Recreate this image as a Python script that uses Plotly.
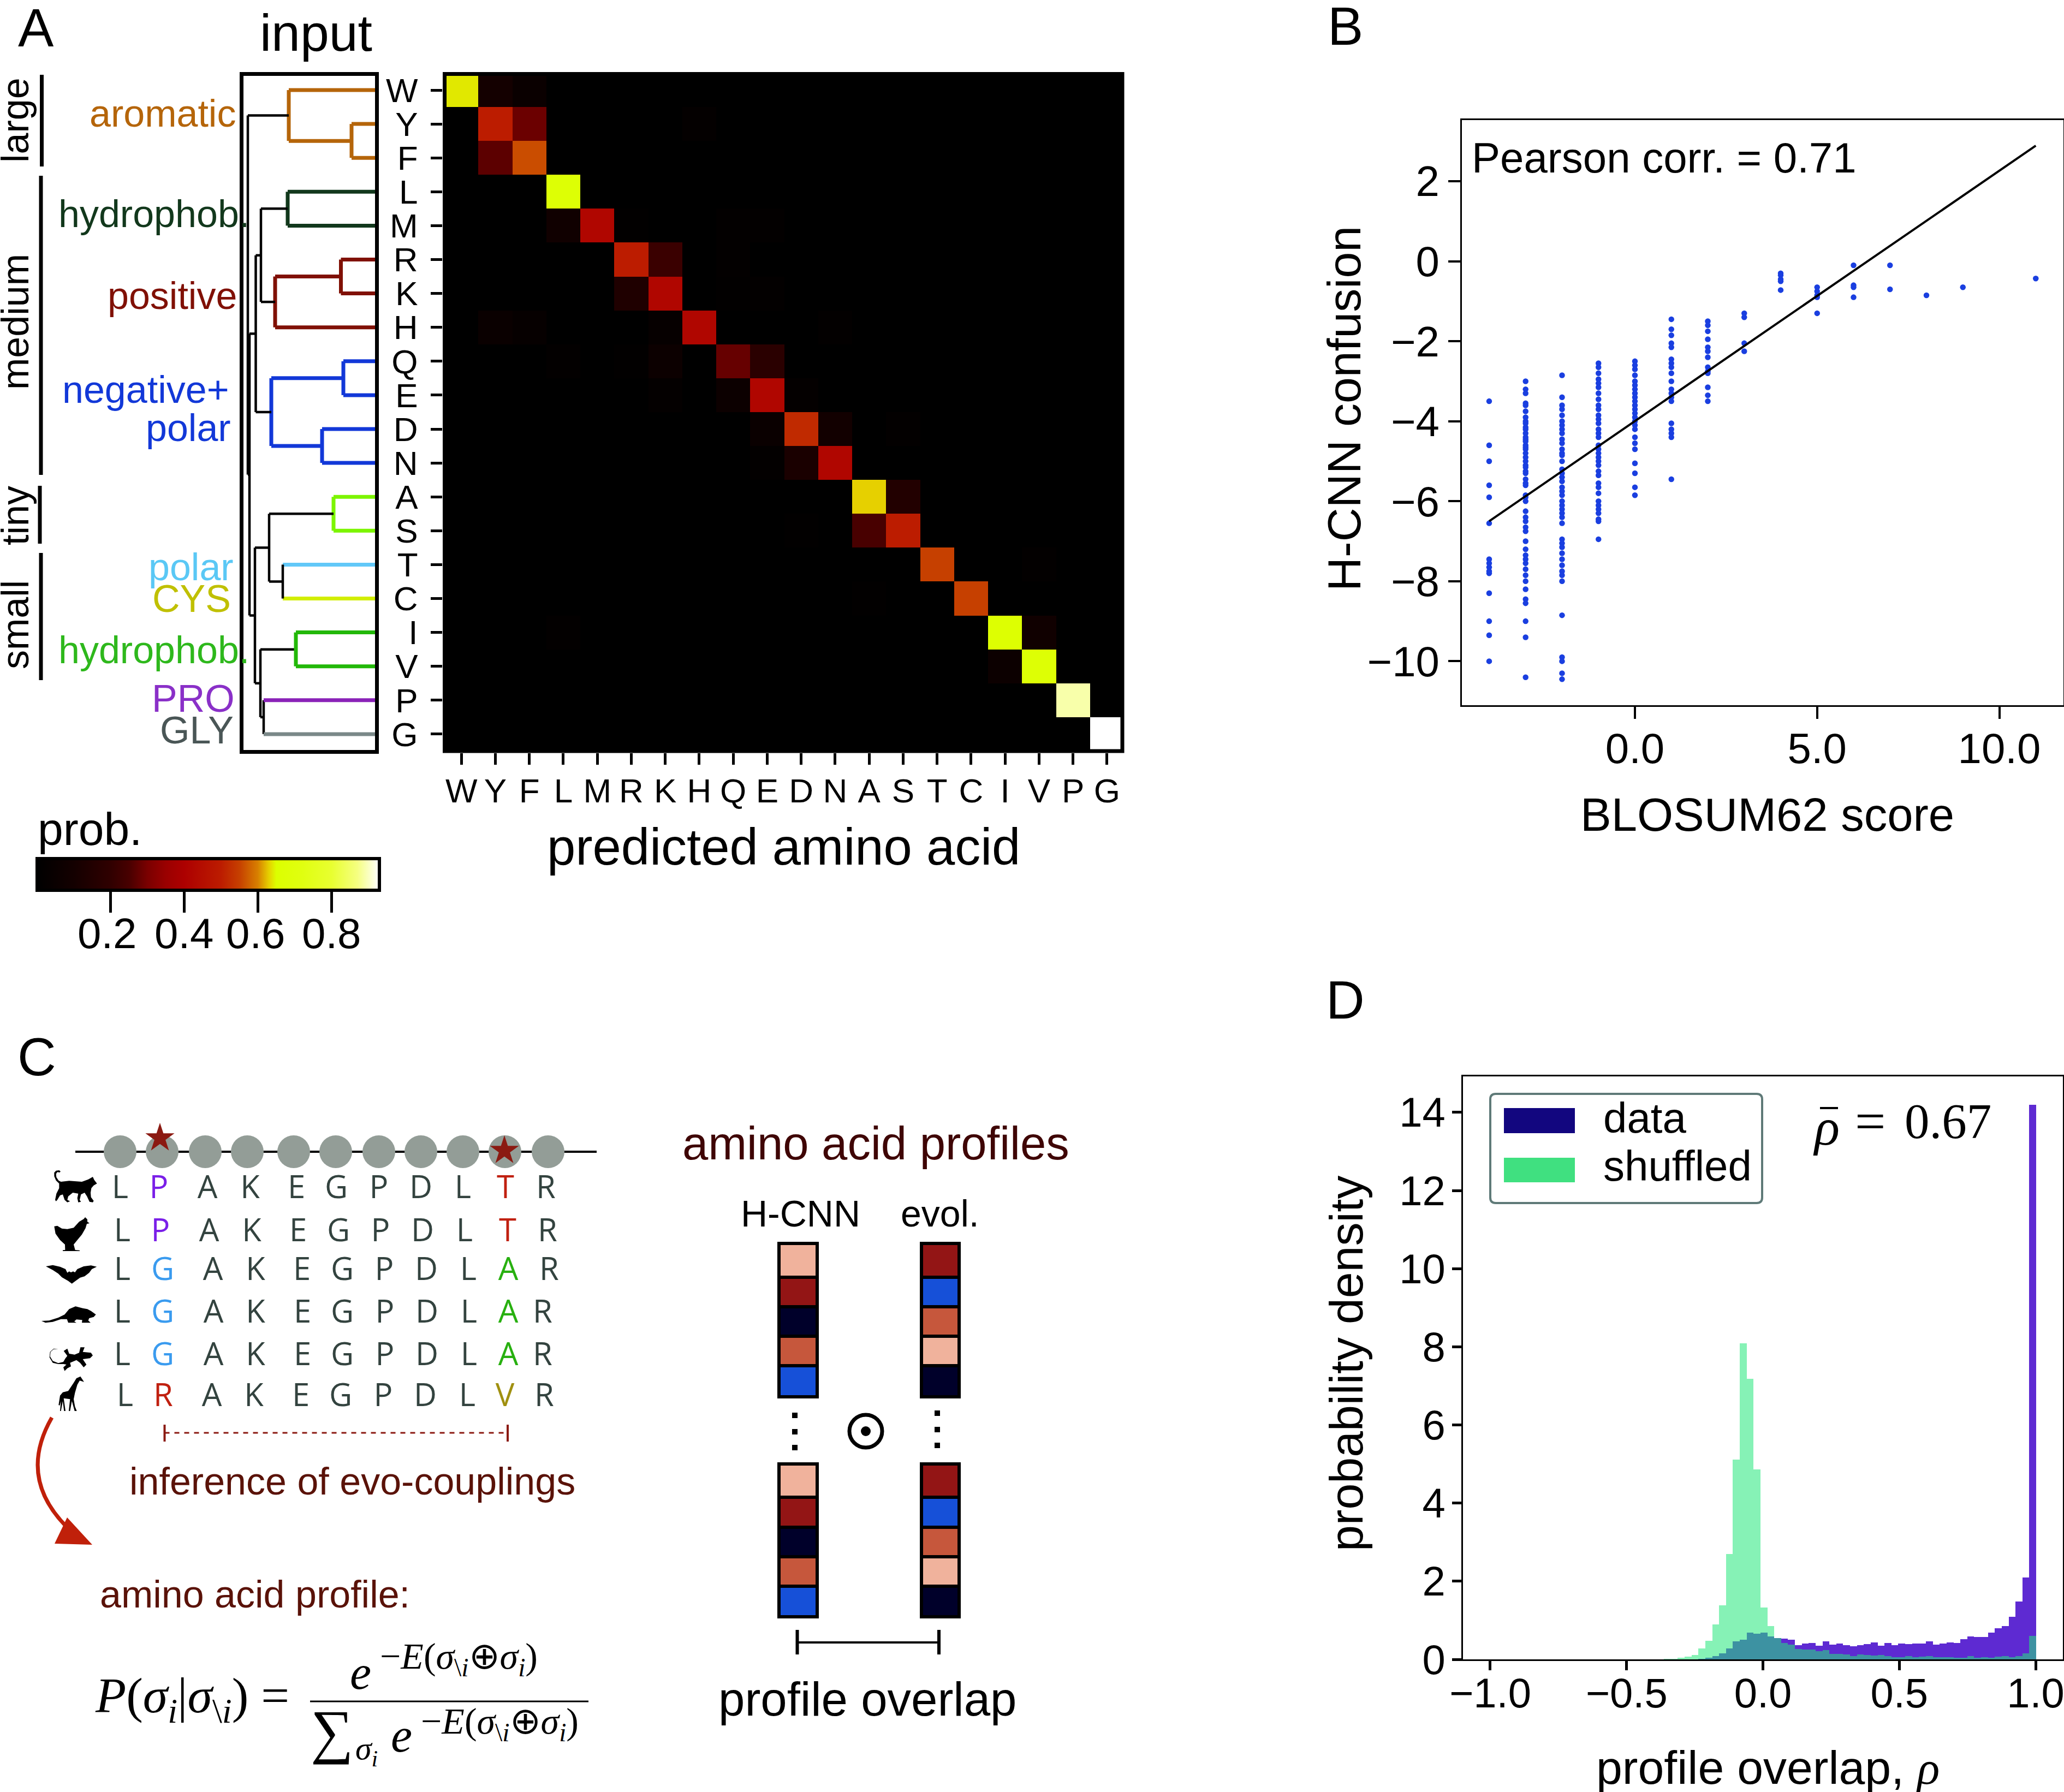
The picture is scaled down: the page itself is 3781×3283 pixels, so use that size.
import plotly.graph_objects as go

W, H = 3781, 3283
SANS = "Liberation Sans"
SERIF = "Liberation Serif"

# ---------------- Panel A data ----------------
amino_acids = ["W","Y","F","L","M","R","K","H","Q","E","D","N","A","S","T","C","I","V","P","G"]
prob_W = [.64,.10,.05,0,0,0,0,0,0,0,0,0,0,0,0,0,0,0,0,0]
prob_Y = [0,.50,.285,0,0,0,0,.02,0,0,0,0,0,0,0,0,0,0,0,0]
prob_F = [0,.27,.56,0,0,0,0,0,0,0,0,0,0,0,0,0,0,0,0,0]
prob_L = [0,0,0,.67,0,0,0,0,0,0,0,0,0,0,0,0,0,0,0,0]
prob_M = [0,0,0,.08,.42,.01,0,0,.015,.015,0,0,0,0,0,0,0,0,0,0]
prob_R = [0,0,0,0,0,.50,.22,0,.015,0,0,0,0,0,0,0,0,0,0,0]
prob_K = [0,0,0,0,0,.14,.42,0,.01,.015,0,0,0,0,0,0,0,0,0,0]
prob_H = [0,.05,.03,0,0,0,.03,.42,0,0,0,.015,0,0,0,0,0,0,0,0]
prob_Q = [0,0,0,.015,0,.01,.06,0,.28,.18,0,0,0,0,0,0,0,0,0,0]
prob_E = [0,0,0,0,0,0,.02,0,.06,.42,.02,0,0,0,0,0,0,0,0,0]
prob_D = [0,0,0,0,0,0,0,0,0,.05,.52,.09,0,.015,0,0,0,0,0,0]
prob_N = [0,0,0,0,0,0,0,0,0,.015,.12,.42,0,0,0,0,0,0,0,0]
prob_A = [0,0,0,0,0,0,0,0,0,0,0,0,.63,.15,0,0,0,0,0,0]
prob_S = [0,0,0,0,0,0,0,0,0,0,.01,0,.25,.50,0,0,0,0,0,0]
prob_T = [0,0,0,0,0,0,0,0,0,0,0,0,0,0,.55,0,0,.015,0,0]
prob_C = [0,0,0,0,0,0,0,0,0,0,0,0,.01,0,0,.55,0,0,0,0]
prob_I = [0,0,0,.015,0,0,0,0,0,0,0,0,0,0,0,0,.66,.08,0,0]
prob_V = [0,0,0,0,0,0,0,0,0,0,0,0,0,0,0,0,.06,.67,0,0]
prob_P = [0,0,0,0,0,0,0,0,0,0,0,0,0,0,0,0,0,0,.89,0]
prob_G = [0,0,0,0,0,0,0,0,0,0,0,0,0,0,0,0,0,0,0,.93]
prob_matrix = [prob_W,prob_Y,prob_F,prob_L,prob_M,prob_R,prob_K,prob_H,prob_Q,prob_E,
               prob_D,prob_N,prob_A,prob_S,prob_T,prob_C,prob_I,prob_V,prob_P,prob_G]
prob_ticks = [0.2,0.4,0.6,0.8]

# dendrogram merges: name, left, right, height, colour
merges = [
 ("YF","Y","F",.172,"#b5650a"), ("aro","W","YF",.632,"#b5650a"),
 ("LM","L","M",.640,"#12381c"),
 ("RK","R","K",.250,"#801005"), ("pos","RK","H",.732,"#801005"),
 ("QE","Q","E",.232,"#1238d8"), ("DN","D","N",.388,"#1238d8"), ("neg","QE","DN",.760,"#1238d8"),
 ("AS","A","S",.304,"#7cf500"), ("TC","T","C",.676,"black"),
 ("IV","I","V",.580,"#22b808"), ("PG","P","G",.816,"black"),
 ("hp","LM","pos",.836,"black"), ("med","hp","neg",.874,"black"),
 ("tiny","AS","TC",.776,"black"), ("sm","IV","PG",.840,"black"),
 ("low","tiny","sm",.880,"black"), ("ml","med","low",.920,"black"),
 ("root","aro","ml",.932,"black"),
]
leaf_colors = {"T":"#62c8f8","C":"#d2ee00","P":"#8a22b8","G":"#7a8888"}

# ---------------- Panel B data ----------------
blosum_scores = [-4,-3,-2,-1,0,1,2,3,4,5,6,7,8,9,11]
conf_m4 = [-3.5,-4.6,-5.0,-5.6,-5.9,-6.55,-7.45,-7.55,-7.65,-7.75,-7.8,-8.3,-9.0,-9.35,-10.0]
conf_m3 = [-3.0,-3.2,-3.3,-3.55,-3.6,-3.75,-3.9,-4.0,-4.05,-4.15,-4.2,-4.3,-4.4,-4.45,-4.5,-4.6,-4.65,-4.7,-4.8,-4.9,
           -5.0,-5.1,-5.15,-5.25,-5.3,-5.45,-5.55,-5.6,-5.85,-5.9,-6.0,-6.25,-6.4,-6.5,-6.65,-6.75,-7.0,-7.2,-7.35,
           -7.45,-7.55,-7.7,-7.85,-8.0,-8.2,-8.45,-8.55,-9.0,-9.4,-10.4]
conf_m2 = [-2.85,-3.4,-3.6,-3.7,-3.85,-4.0,-4.1,-4.2,-4.3,-4.45,-4.55,-4.7,-4.8,-4.85,-5.0,-5.2,-5.3,-5.4,-5.5,-5.65,
           -5.75,-5.85,-6.0,-6.1,-6.2,-6.3,-6.4,-6.55,-6.95,-7.05,-7.15,-7.3,-7.45,-7.6,-7.75,-7.85,-8.0,-8.85,-9.9,-10.0,-10.3,-10.45]
conf_m1 = [-2.55,-2.65,-2.8,-2.95,-3.05,-3.15,-3.3,-3.45,-3.6,-3.7,-3.85,-3.95,-4.05,-4.2,-4.3,-4.4,-4.6,-4.7,-4.8,-4.9,
           -5.0,-5.1,-5.25,-5.35,-5.55,-5.65,-5.8,-6.0,-6.1,-6.2,-6.3,-6.45,-6.5,-6.95]
conf_0 = [-2.5,-2.6,-2.7,-2.85,-3.0,-3.1,-3.2,-3.3,-3.4,-3.5,-3.6,-3.7,-3.8,-3.9,-4.0,-4.1,-4.2,-4.4,-4.55,-4.7,-5.05,-5.3,-5.65,-5.85]
conf_1 = [-1.45,-1.7,-1.85,-2.05,-2.15,-2.45,-2.55,-2.65,-2.8,-3.0,-3.2,-3.3,-3.4,-3.5,-4.05,-4.2,-4.3,-4.4,-5.45]
conf_2 = [-1.5,-1.6,-1.75,-1.95,-2.15,-2.25,-2.4,-2.65,-2.75,-2.8,-3.15,-3.35,-3.5]
conf_3 = [-1.3,-1.4,-2.05,-2.25]
conf_4 = [-0.3,-0.35,-0.45,-0.5,-0.72]
conf_5 = [-0.65,-0.75,-0.85,-0.9,-1.3]
conf_6 = [-0.1,-0.6,-0.65,-0.9]
conf_7 = [-0.1,-0.7]
conf_8 = [-0.85]
conf_9 = [-0.65]
conf_11 = [-0.43]
conf_columns = [conf_m4,conf_m3,conf_m2,conf_m1,conf_0,conf_1,conf_2,conf_3,conf_4,conf_5,conf_6,conf_7,conf_8,conf_9,conf_11]
fit_x = [-4, 11]
fit_y = [-6.5, 2.89]

# ---------------- Panel D data ----------------
bin_right = 1.002
bin_width = 0.02528
data_density = [0,0,0,0,0,.01,.04,.09,.16,.28,.46,.50,.68,.65,.68,.58,.55,.53,.50,.37,.40,.42,.35,.456,.38,.405,.37,.33,.37,.39,
                .43,.35,.42,.37,.41,.39,.41,.41,.456,.38,.40,.43,.42,.52,.582,.568,.577,.69,.80,.857,1.09,1.48,2.10,14.2]
shuffled_density = [.01,.02,.04,.07,.11,.28,.48,.89,1.38,2.70,5.11,8.09,7.18,4.86,1.33,.85,.55,.42,.38,.27,.25,.256,.205,.237,.14,.14,.126,.084,.126,.11,
                    .10,.11,.084,.055,.055,.08,.055,.065,.084,.055,.055,.055,.04,.04,.084,.04,.055,.04,.065,.084,.055,.08,.154,.596]

# ---------------- Panel C data ----------------
sequences = ["LPAKEGPDLTR","LPAKEGPDLTR","LGAKEGPDLAR","LGAKEGPDLAR","LGAKEGPDLAR","LRAKEGPDLVR"]
residue_colors = {"P":"#7a1fe8","G":"#3a9bef","R":"#c02010","T":"#c02010","A":"#28b010","V":"#a09010"}
coupled_sites = [1, 9]
hcnn_profile = ["salmon","crimson","navy","terracotta","blue"]
evol_profile = ["crimson","blue","terracotta","salmon","navy"]

# ---------------- geometry helpers ----------------
def xd(a, b): return [a / W, b / W]
def yd(top, bot): return [1 - bot / H, 1 - top / H]
def PX(x): return x / W
def PY(y): return 1 - y / H

fig = go.Figure()
shapes, annots = [], []

def text(t, x, y, size, color="black", xa="center", rot=0, family=SANS):
    annots.append(dict(text=t, x=PX(x), y=PY(y), xref="paper", yref="paper", showarrow=False,
                       xanchor=xa, yanchor="middle", textangle=rot, borderpad=0,
                       font=dict(size=size, color=color, family=family)))

def seg(x0, y0, x1, y1, color="black", width=4, dash=None):
    shapes.append(dict(type="line", xref="paper", yref="paper", x0=PX(x0), y0=PY(y0), x1=PX(x1), y1=PY(y1),
                       line=dict(color=color, width=width, dash=dash)))

def rect(x0, y0, x1, y1, fill, line="rgba(0,0,0,0)", width=0):
    shapes.append(dict(type="rect", xref="paper", yref="paper", x0=PX(x0), y0=PY(y0), x1=PX(x1), y1=PY(y1),
                       fillcolor=fill, line=dict(color=line, width=width)))

def poly(points, ox, oy, fill="black"):
    d = "M" + " L".join(f"{PX(ox + a / 3):.5f},{PY(oy + b / 3):.5f}" for a, b in points) + " Z"
    shapes.append(dict(type="path", xref="paper", yref="paper", path=d, fillcolor=fill, line=dict(width=0)))

# ---------------- Panel A: heatmap ----------------
ROW0, ROWSTEP = 165.0, 62.1
stops = [(0,"#000000"),(.1,"#140000"),(.2,"#300000"),(.25,"#480000"),(.3,"#7a0000"),(.35,"#9a0000"),(.4,"#ad0000"),
         (.5,"#bc1c00"),(.55,"#c64000"),(.6,"#d88000"),(.63,"#e6d000"),(.65,"#dcff00"),(.72,"#e0ff10"),
         (.8,"#e8ff30"),(.87,"#f5ff80"),(.93,"#ffffff")]
ZMAX = .93
fig.add_trace(go.Heatmap(
    z=prob_matrix, x=amino_acids, y=amino_acids, zmin=0, zmax=ZMAX, xaxis="x", yaxis="y",
    colorscale=[[v / ZMAX, c] for v, c in stops], hoverinfo="skip",
    colorbar=dict(orientation="h", x=PX(68), xanchor="left", y=PY(1573), yanchor="top",
                  len=627, lenmode="pixels", thickness=58, thicknessmode="pixels", xpad=0, ypad=0,
                  outlinewidth=6, outlinecolor="black", borderwidth=0, ticks="outside", ticklen=38, tickwidth=5,
                  tickcolor="black", tickvals=prob_ticks, showticklabels=False)))
# black frame clipping the edge cells, as in the reference
rect(814.5,135.5,2056,1376,"rgba(0,0,0,0)","black",7)

# ---------------- Panel A: dendrogram ----------------
pos = {a: (i, 0.0) for i, a in enumerate(amino_acids)}
segments = {}
def add_seg(color, xs, ys):
    sx, sy = segments.setdefault(color, ([], []))
    sx += xs + [None]
    sy += ys + [None]
for name, left, right, h, col in merges:
    ya, ha = pos[left]
    yb, hb = pos[right]
    add_seg(leaf_colors.get(left, col), [ha, h], [ya, ya])
    add_seg(leaf_colors.get(right, col), [hb, h], [yb, yb])
    add_seg(col, [h, h], [ya, yb])
    pos[name] = ((ya + yb) / 2, h)
for color, (sx, sy) in segments.items():
    fig.add_trace(go.Scatter(x=sx, y=sy, xaxis="x2", yaxis="y2", mode="lines", hoverinfo="skip",
                             line=dict(color=color, width=4.5 if color == "black" else 7)))

# ---------------- Panel B ----------------
bx, by = [], []
for s, col in zip(blosum_scores, conf_columns):
    bx += [s] * len(col)
    by += col
fig.add_trace(go.Scatter(x=bx, y=by, xaxis="x3", yaxis="y3", mode="markers", hoverinfo="skip",
                         marker=dict(size=10.5, color="#1a3fe0")))
fig.add_trace(go.Scatter(x=fit_x, y=fit_y, xaxis="x3", yaxis="y3", mode="lines", hoverinfo="skip",
                         line=dict(color="black", width=4)))

# ---------------- Panel D ----------------
n_bins = len(data_density)
bin_centers = [bin_right - (n_bins - i - 0.5) * bin_width for i in range(n_bins)]
fig.add_trace(go.Bar(x=bin_centers, y=data_density, width=bin_width, xaxis="x4", yaxis="y4", hoverinfo="skip",
                     marker=dict(color="#5e2ad2", line=dict(width=0))))
fig.add_trace(go.Bar(x=bin_centers, y=shuffled_density, width=bin_width, xaxis="x4", yaxis="y4", hoverinfo="skip",
                     marker=dict(color="rgba(35,231,122,0.55)", line=dict(width=0))))

# ---------------- Panel C: sequences (overlay axes in canvas pixels) ----------------
site_x = [220,297,376,453,538,615,694,771,848,925,1004]
chain_y = 2110
fig.add_trace(go.Scatter(x=[138,1093], y=[chain_y,chain_y], xaxis="x5", yaxis="y5", mode="lines",
                         hoverinfo="skip", line=dict(color="black", width=4)))
fig.add_trace(go.Scatter(x=site_x, y=[chain_y]*len(site_x), xaxis="x5", yaxis="y5", mode="markers",
                         hoverinfo="skip", marker=dict(size=60, color="#939d97")))
fig.add_trace(go.Scatter(x=[293,924], y=[2085,2108], xaxis="x5", yaxis="y5", mode="markers", hoverinfo="skip",
                         marker=dict(symbol="star", size=40, color="#8b1a12")))
row_y = [2180,2259,2330,2408,2486,2561]
row_x = [[220,291,380,458,543,616,694,771,848,926,1000],
         [224,294,383,461,546,620,697,774,851,930,1003],
         [224,298,390,468,553,627,704,781,858,931,1006],
         [224,298,391,468,554,627,705,782,859,931,994],
         [224,298,391,468,554,627,705,782,859,931,994],
         [229,299,388,465,551,624,702,779,856,925,997]]
lx, ly, lt, lc = [], [], [], []
for seq, y, xs in zip(sequences, row_y, row_x):
    for k, (ch, x) in enumerate(zip(seq, xs)):
        lx.append(x); ly.append(y); lt.append(ch)
        lc.append(residue_colors[ch] if k in coupled_sites else "#33433f")
fig.add_trace(go.Scatter(x=lx, y=ly, text=lt, xaxis="x5", yaxis="y5", mode="text", hoverinfo="skip",
                         textposition="middle center",
                         textfont=dict(size=58, family="Open Sans", color=lc)))

# ---- group labels
for t, x, y, c, xa in [("aromatic",433,208,"#b5650a","right"),("hydrophob.",106,392,"#12381c","left"),
                       ("positive",435,542,"#801005","right"),("negative+",421,714,"#1238d8","right"),
                       ("polar",424,784,"#1238d8","right"),("polar",429,1039,"#5ac8f5","right"),
                       ("CYS",424,1097,"#c0c000","right"),("hydrophob.",106,1191,"#2eb81c","left"),
                       ("PRO",431,1280,"#8a30c8","right"),("GLY",429,1338,"#4a5656","right")]:
    text(t, x, y, 70, c, xa)
for t, y in [("large",220),("medium",590),("tiny",945),("small",1145)]:
    text(t, 28, y, 70, rot=-90)
for x, y0, y1 in [(76.5,137,305),(75,322,870),(73,890,996),(75,1013,1246)]:
    seg(x, y0, x, y1, width=7)
text("A", 66, 51, 98)
text("B", 2464, 48, 98)
text("C", 67, 1936, 98)
text("D", 2464, 1832, 98)
text("input", 579, 60, 95)
text("predicted amino acid", 1435, 1551, 94)
text("prob.", 68, 1519, 84, xa="left")
for t, x in zip(prob_ticks, [196,337,468,607]):
    text(f"{t:.1f}", x, 1710, 78)

# ---- Panel B / D labels
text("BLOSUM62 score", 3237, 1492, 85)
text("H-CNN confusion", 2462, 749, 86, rot=-90)
text("Pearson corr. = 0.71", 2695, 289, 78, xa="left")
text("probability density", 2466, 2498, 86, rot=-90)
text('profile overlap, <span style="font-family:Liberation Serif"><i>ρ</i></span>', 3238, 3238, 86)
text("<i>ρ</i>", 3345, 2064, 96, family=SERIF)
seg(3334, 2030, 3367, 2030, "black", 4)
text("=", 3426, 2054, 100, family=SERIF)
text("0.67", 3488, 2054, 91, xa="left", family=SERIF)
# legend of panel D
lx0, ly0, lx1, ly1, r = 2730, 2004, 3228, 2204, 10
shapes.append(dict(type="path", xref="paper", yref="paper", fillcolor="white", line=dict(color="#5f7a78", width=4),
    path=(f"M{PX(lx0+r)},{PY(ly0)} L{PX(lx1-r)},{PY(ly0)} Q{PX(lx1)},{PY(ly0)} {PX(lx1)},{PY(ly0+r)} "
          f"L{PX(lx1)},{PY(ly1-r)} Q{PX(lx1)},{PY(ly1)} {PX(lx1-r)},{PY(ly1)} L{PX(lx0+r)},{PY(ly1)} "
          f"Q{PX(lx0)},{PY(ly1)} {PX(lx0)},{PY(ly1-r)} L{PX(lx0)},{PY(ly0+r)} Q{PX(lx0)},{PY(ly0)} {PX(lx0+r)},{PY(ly0)} Z")))
rect(2755,2030,2885,2076,"#12067f")
rect(2755,2121,2885,2166,"#40e080")
text("data", 2936, 2048, 78, xa="left")
text("shuffled", 2936, 2136, 78, xa="left")

# ---- Panel C: texts and schematic
seg(301.5,2625,930,2625,"#8b1a12",3,"dash")
seg(301.5,2610,301.5,2641,"#8b1a12",4)
seg(930,2610,930,2641,"#8b1a12",4)
text("inference of evo-couplings", 645, 2714, 70, "#5a1208")
text("amino acid profile:", 467, 2921, 70, "#5a1208")
shapes.append(dict(type="path", xref="paper", yref="paper", line=dict(color="#c0200a", width=7),
    path=f"M{PX(95)},{PY(2597)} Q{PX(30)},{PY(2710)} {PX(128)},{PY(2803)}"))
poly([(300,8484),(369,8340),(507,8490)], 0, 0, "#c0200a")
# formula
text("<i>P</i>(<i>σ<sub>i</sub></i>|<i>σ</i><sub>\\<i>i</i></sub>) =", 352, 3112, 92, family=SERIF)
seg(568,3117,1078,3117,"black",3)
text("<i>e</i>", 660, 3064, 88, family=SERIF)
exponent = "−<i>E</i>(<i>σ</i><sub>\\<i>i</i></sub>⊕<i>σ<sub>i</sub></i>)"
text(exponent, 840, 3038, 68, family=SERIF)
text("∑", 608, 3172, 110, family=SERIF)
text("<i>σ<sub>i</sub></i>", 671, 3207, 60, family=SERIF)
text("<i>e</i>", 735, 3179, 88, family=SERIF)
text(exponent, 915, 3157, 68, family=SERIF)
# profiles
text("amino acid profiles", 1604, 2094, 85, "#3f0505")
text("H-CNN", 1466, 2223, 68)
text("evol.", 1722, 2223, 68)
palette = {"salmon":"#f0b29c","crimson":"#931515","navy":"#00002a","terracotta":"#c6573c","blue":"#1650d8"}
stack_top = [2278,2340,2394,2448,2502,2559]
stack_bot = [2682,2743,2798,2852,2906,2962]
for prof, (c0, c1) in [(hcnn_profile,(1427,1497)),(evol_profile,(1688,1757))]:
    for edges in (stack_top, stack_bot):
        for i, name in enumerate(prof):
            rect(c0, edges[i], c1, edges[i+1], palette[name], "black", 6)
for cx, ys in [(1456,(2593,2623,2652)),(1717,(2589,2619,2648))]:
    for y in ys:
        rect(cx-5, y-5, cx+5, y+5, "black")
def circle(cx, cy, rad, fill, line, width):
    shapes.append(dict(type="circle", xref="paper", yref="paper", x0=PX(cx-rad), x1=PX(cx+rad),
                       y0=PY(cy-rad), y1=PY(cy+rad), fillcolor=fill, line=dict(color=line, width=width)))
circle(1586,2622,30,"white","black",7)
circle(1586,2622,9,"black","black",0)
seg(1460.5,3009,1720,3009,"black",4)
seg(1460.5,2986,1460.5,3031,"black",6)
seg(1720,2986,1720,3031,"black",6)
text("profile overlap", 1589, 3112, 87)

# ---- silhouettes
cat = [(145,115),(128,98),(118,75),(118,55),(128,44),(145,42),(153,48),(148,54),(135,52),(128,62),(130,80),(142,98),(155,105),
       (200,100),(270,105),(305,92),(330,78),(338,95),(353,115),(335,125),(322,140),(318,165),(320,190),(335,210),(330,218),
       (312,215),(298,185),(285,165),(265,175),(258,205),(265,215),(250,218),(245,195),(250,170),(220,165),(195,185),(190,205),
       (205,212),(190,218),(175,205),(165,175),(150,180),(135,205),(128,212),(123,205),(130,170),(145,140)]
hen = [(118,350),(135,347),(160,362),(190,365),(225,358),(255,325),(280,310),(288,300),(300,312),(300,325),(312,333),(297,337),
       (290,360),(270,395),(245,425),(225,450),(233,480),(258,482),(258,486),(165,486),(165,481),(178,480),(177,450),(150,425),(125,390)]
bat = [(72,570),(110,563),(150,572),(180,585),(190,605),(200,598),(210,603),(222,598),(232,603),(245,585),(280,570),(320,565),
       (352,572),(325,585),(310,605),(285,625),(260,632),(235,650),(215,665),(195,650),(160,630),(140,610),(110,590)]
rat = [(48,360),(90,358),(140,342),(175,325),(200,295),(235,280),(275,290),(300,295),(320,305),(347,325),(335,338),(310,345),
       (305,358),(318,370),(270,370),(272,355),(240,352),(228,362),(240,370),(195,370),(188,350),(155,350),(110,365),(70,370)]
gecko = [(140,515),(115,515),(98,530),(95,555),(110,580),(140,592),(168,585),(180,565),(190,552),(170,525),(190,512),(200,540),
         (230,545),(255,535),(262,505),(285,505),(275,530),(320,535),(330,550),(315,565),(275,570),(295,600),(280,615),(260,590),
         (240,575),(205,590),(210,610),(190,620),(175,635),(168,615),(185,600),(170,597),(140,597),(110,590),(92,560),(95,530),(115,512)]
giraffe = [(262,665),(282,695),(258,688),(245,710),(232,755),(225,790),(232,830),(242,855),(230,855),(215,800),(205,855),(198,855),
           (205,790),(170,785),(180,855),(172,855),(165,800),(155,855),(150,855),(155,800),(148,825),(142,822),(150,770),(165,752),
           (195,745),(225,700),(240,675),(252,670)]
poly(cat,60,2130); poly(hen,60,2130); poly(bat,60,2130)
poly(rat,60,2300); poly(gecko,60,2300); poly(giraffe,60,2300)

# ---------------- axes ----------------
def row_range(top, bot):
    return [(bot - ROW0) / ROWSTEP, (top - ROW0) / ROWSTEP]
box = dict(showline=True, mirror=True, linecolor="black", showgrid=False, zeroline=False, ticklabeloverflow="allow")
layout = dict(
    width=W, height=H, margin=dict(l=0, r=0, t=0, b=0, pad=0, autoexpand=False), paper_bgcolor="white", plot_bgcolor="rgba(0,0,0,0)",
    font=dict(family=SANS, color="black"), showlegend=False, barmode="overlay", bargap=0,
    xaxis=dict(domain=xd(811,2059), range=[-0.55,19.5], type="category", categoryorder="array", categoryarray=amino_acids,
               anchor="y", showgrid=False, zeroline=False, ticks="outside", ticklen=21, tickwidth=5, tickcolor="black",
               tickmode="array", tickvals=amino_acids, ticktext=amino_acids, tickangle=0, ticklabelstandoff=-5, tickfont=dict(size=62)),
    yaxis=dict(domain=yd(133,1379), range=row_range(133,1379), type="category", categoryorder="array", categoryarray=amino_acids,
               anchor="x", showgrid=False, zeroline=False, ticks="outside", ticklen=21, tickwidth=5, tickcolor="black",
               tickmode="array", tickvals=amino_acids, ticktext=amino_acids, ticklabelstandoff=11, tickfont=dict(size=62)),
    xaxis2=dict(domain=xd(446,687), range=[(687-446)/250, 0], anchor="y2", showticklabels=False, ticks="", linewidth=7, **box),
    yaxis2=dict(domain=yd(139,1374), range=row_range(139,1374), anchor="x2", showticklabels=False, ticks="", linewidth=7, **box),
    xaxis3=dict(domain=xd(2677.5,3780), range=[-4.756,11.76], anchor="y3", tickmode="array", tickvals=[0,5,10],
                ticktext=["0.0","5.0","10.0"], ticks="outside", ticklen=22, tickwidth=4, tickcolor="black", linewidth=3,
                ticklabelstandoff=-13, tickfont=dict(size=78), **box),
    yaxis3=dict(domain=yd(220,1292), range=[-11.1,3.53], anchor="x3", tickmode="array", tickvals=[2,0,-2,-4,-6,-8,-10],
                ticks="outside", ticklen=22, tickwidth=4, tickcolor="black", linewidth=3,
                ticklabelstandoff=0, tickfont=dict(size=78), **box),
    xaxis4=dict(domain=xd(2680,3779), range=[-1.1,1.1], anchor="y4", tickmode="array", tickvals=[-1,-.5,0,.5,1],
                tickformat=".1f", ticks="outside", ticklen=17, tickwidth=5, tickcolor="black", linewidth=3,
                ticklabelstandoff=-23, tickfont=dict(size=76), **box),
    yaxis4=dict(domain=yd(1972,3040), range=[0,14.92], anchor="x4", tickmode="array", tickvals=[0,2,4,6,8,10,12,14],
                ticks="outside", ticklen=17, tickwidth=5, tickcolor="black", linewidth=3,
                ticklabelstandoff=-3, tickfont=dict(size=76), **box),
    xaxis5=dict(domain=[0,1], range=[0,W], anchor="y5", visible=False),
    yaxis5=dict(domain=[0,1], range=[H,0], anchor="x5", visible=False),
    shapes=shapes, annotations=annots,
)
fig.update_layout(**layout)
fig.add_shape(type="rect", xref="paper", yref="paper", x0=PX(811), x1=PX(2059), y0=PY(1379), y1=PY(133),
              fillcolor="black", line=dict(width=0), layer="below")
fig.write_html("out.html", config={"displayModeBar": False},
               post_script="document.body.style.margin='0';document.documentElement.style.overflow='hidden';")
